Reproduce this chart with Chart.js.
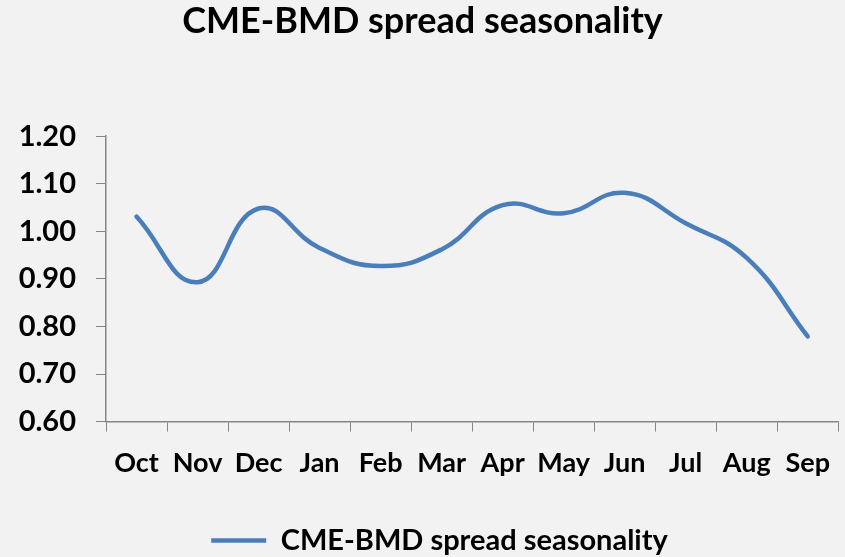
<!DOCTYPE html>
<html>
<head>
<meta charset="utf-8">
<script src="https://cdn.jsdelivr.net/npm/chart.js@4/dist/chart.umd.min.js"></script>
<style>
  html, body { margin: 0; padding: 0; background: #f2f2f2; }
  #wrap { width: 845px; height: 557px; }
</style>
</head>
<body>
<div id="wrap"><canvas id="spreadChart" width="845" height="557"></canvas></div>
<script>
const months = ["Oct", "Nov", "Dec", "Jan", "Feb", "Mar", "Apr", "May", "Jun", "Jul", "Aug", "Sep"];
const spread = [1.031, 0.893, 1.048, 0.965, 0.927, 0.962, 1.055, 1.038, 1.081, 1.017, 0.944, 0.779];
const seriesName = "CME-BMD spread seasonality";
const yMin = 0.6, yMax = 1.2, yStep = 0.1;

const axisColor = '#868686';
const fontFamily = "Lato, 'Open Sans', sans-serif";

// nudge the legend a bit right, like the Excel original
const legendShift = {
    id: 'legendShift',
    afterLayout(chart) {
        chart.legend.left += 17;
        chart.legend.right += 17;
    }
};

const ctx = document.querySelector("#spreadChart").getContext('2d');

var spreadChart = new Chart(ctx, {
    type: 'line',
    data: {
        labels: months,
        datasets: [{
            label: seriesName,
            data: spread,
            borderColor: '#4a7ebb',
            backgroundColor: '#4a7ebb',
            borderWidth: 4.5,
            borderCapStyle: 'round',
            pointRadius: 0,
            pointStyle: 'line',
            tension: 0.45,
            fill: false
        }]
    },
    plugins: [legendShift],
    options: {
        responsive: false,
        animation: false,
        layout: { padding: { left: 0, right: 0, top: 0, bottom: -8 } },
        plugins: {
            title: {
                display: true,
                text: seriesName,
                color: '#000',
                font: { family: fontFamily, size: 36, weight: 'bold' },
                padding: { top: 0, bottom: 93 }
            },
            legend: {
                position: 'bottom',
                labels: {
                    usePointStyle: true,
                    pointStyle: 'line',
                    pointStyleWidth: 55,
                    color: '#000',
                    font: { family: fontFamily, size: 29, weight: 'bold', lineHeight: 1 },
                    padding: 32
                }
            },
            tooltip: { enabled: false }
        },
        scales: {
            x: {
                offset: true,
                grid: {
                    display: true,
                    offset: true,
                    drawOnChartArea: false,
                    drawTicks: true,
                    tickLength: 10,
                    color: axisColor
                },
                border: { color: axisColor, width: 1.5 },
                ticks: {
                    color: '#000',
                    padding: 15,
                    maxRotation: 0,
                    autoSkip: false,
                    font: { family: fontFamily, size: 27, weight: 'bold' }
                }
            },
            y: {
                min: yMin,
                max: yMax,
                afterFit: function (scale) { scale.width = 106; },
                grid: {
                    display: true,
                    drawOnChartArea: false,
                    drawTicks: true,
                    tickLength: 10,
                    color: axisColor
                },
                border: { color: axisColor, width: 1.5 },
                ticks: {
                    stepSize: yStep,
                    color: '#000',
                    padding: 20,
                    font: { family: fontFamily, size: 29, weight: 'bold' },
                    callback: function (v) { return Number(v).toFixed(2); }
                }
            }
        }
    }
});
</script>
</body>
</html>
